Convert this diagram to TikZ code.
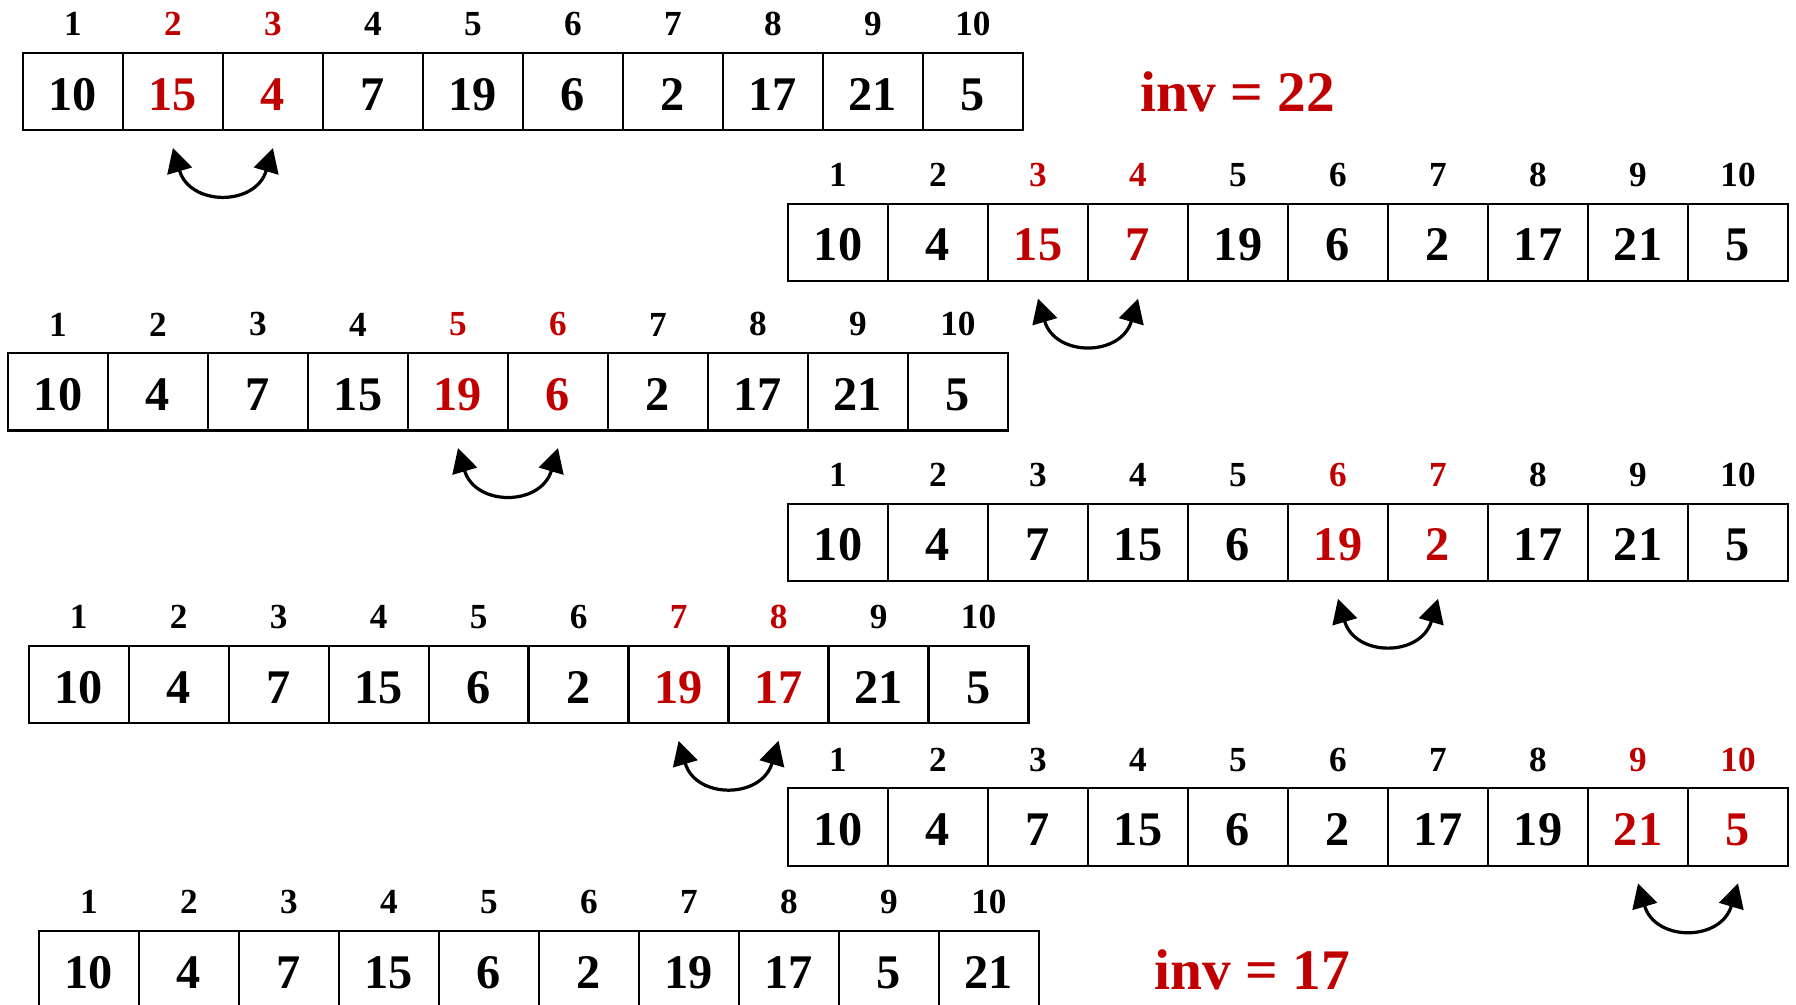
\documentclass[tikz,border=0pt]{standalone}
\usepackage{fontspec}
\setmainfont{Liberation Serif}
\usetikzlibrary{positioning,arrows.meta}
\definecolor{SwapRed}{HTML}{C00000}

\tikzset{
  cell/.style={draw,line width=1.1pt,minimum width=1.746cm,minimum height=1.35cm,
    inner sep=0pt,outer sep=0pt,text height=0.65cm,text depth=0pt,
    font=\fontsize{24}{24}\selectfont\bfseries},
  idx/.style={inner sep=0pt,font=\fontsize{17.5}{17.5}\selectfont\bfseries},
  invlabel/.style={inner sep=0pt,text=SwapRed,font=\fontsize{28.5}{28.5}\selectfont\bfseries},
  swaparrow/.style={{Triangle[length=0.42cm,width=0.44cm]}-{Triangle[length=0.42cm,width=0.44cm]},
    line width=1.6pt}
}

% one array: name, left x, centre y, first red index, values
\newcommand{\cellrow}[5]{%
  \foreach [count=\i] \v in {#5} {
    \ifnum\i=#4 \def\tc{SwapRed}\else
      \ifnum\i=\numexpr#4+1\relax \def\tc{SwapRed}\else \def\tc{black}\fi
    \fi
    \node[cell,text=\tc] (#1-\i) at ({#2+87.3*(\i-0.5)},#3) {\v};
    \node[idx,text=\tc,above=0.29cm of #1-\i] (#1-n\i) {\i};
  }
}

\begin{document}
\begin{tikzpicture}[x=0.02cm,y=-0.02cm]
  \useasboundingbox (0,0) rectangle (1568,877);

  \cellrow{r1}{20}{80}{2}{10,15,4,7,19,6,2,17,21,5}
  \cellrow{r2}{688}{211.5}{3}{10,4,15,7,19,6,2,17,21,5}
  \cellrow{r3}{7}{342}{5}{10,4,7,15,19,6,2,17,21,5}
  \cellrow{r4}{688}{473.5}{6}{10,4,7,15,6,19,2,17,21,5}
  \cellrow{r5}{25}{597.5}{7}{10,4,7,15,6,2,19,17,21,5}
  \cellrow{r6}{688}{722}{9}{10,4,7,15,6,2,17,19,21,5}
  \cellrow{r7}{34}{846.5}{99}{10,4,7,15,6,2,19,17,5,21}

  \node[invlabel,right=2.04cm of r1-10] (inv1) {inv = 22};
  \node[invlabel,right=2.02cm of r7-10] (inv2) {inv = 17};

  % swaps
  \draw[swaparrow] ([yshift=-0.31cm]r1-2.south) .. controls +(0.3cm,-1.02cm) and +(-0.3cm,-1.02cm) .. ([yshift=-0.31cm]r1-3.south);
  \draw[swaparrow] ([yshift=-0.31cm]r2-3.south) .. controls +(0.3cm,-1.02cm) and +(-0.3cm,-1.02cm) .. ([yshift=-0.31cm]r2-4.south);
  \draw[swaparrow] ([yshift=-0.31cm]r3-5.south) .. controls +(0.3cm,-1.02cm) and +(-0.3cm,-1.02cm) .. ([yshift=-0.31cm]r3-6.south);
  \draw[swaparrow] ([yshift=-0.31cm]r4-6.south) .. controls +(0.3cm,-1.02cm) and +(-0.3cm,-1.02cm) .. ([yshift=-0.31cm]r4-7.south);
  \draw[swaparrow] ([yshift=-0.31cm]r5-7.south) .. controls +(0.3cm,-1.02cm) and +(-0.3cm,-1.02cm) .. ([yshift=-0.31cm]r5-8.south);
  \draw[swaparrow] ([yshift=-0.31cm]r6-9.south) .. controls +(0.3cm,-1.02cm) and +(-0.3cm,-1.02cm) .. ([yshift=-0.31cm]r6-10.south);
\end{tikzpicture}
\end{document}
